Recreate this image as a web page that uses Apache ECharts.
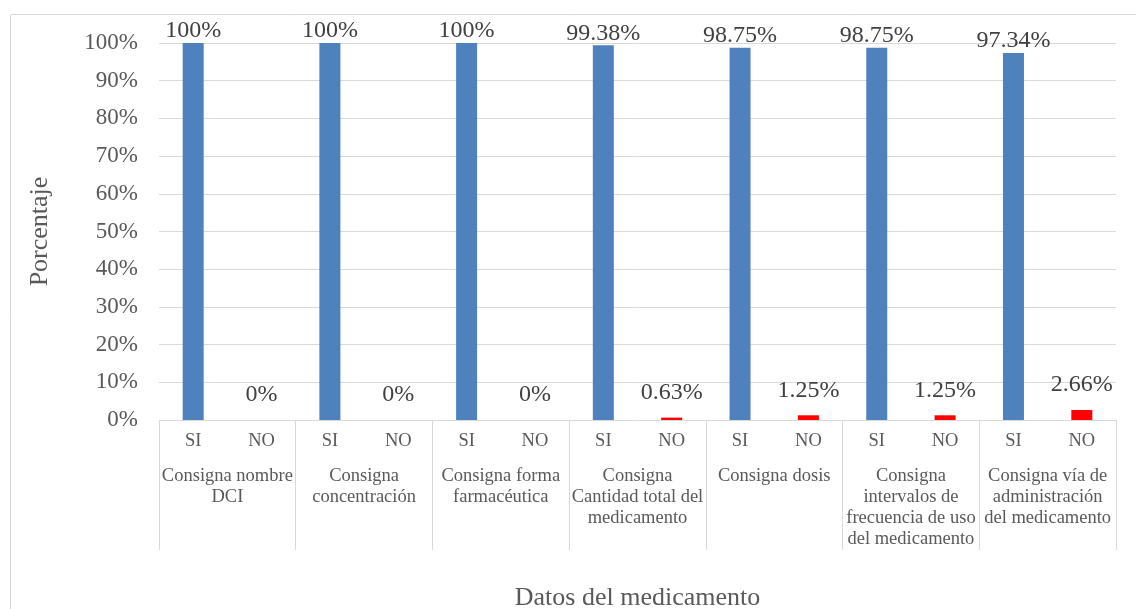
<!DOCTYPE html>
<html>
<head>
<meta charset="utf-8">
<script src="https://cdn.jsdelivr.net/npm/echarts@6/dist/echarts.min.js"></script>
<style>html,body{margin:0;padding:0;background:#fff}#c{width:1136px;height:609px}</style>
</head>
<body>
<div id="c"></div>
<script>
const groups = ['Consigna nombre\nDCI', 'Consigna\nconcentración', 'Consigna forma\nfarmacéutica', 'Consigna\nCantidad total del\nmedicamento', 'Consigna dosis', 'Consigna\nintervalos de\nfrecuencia de uso\ndel medicamento', 'Consigna vía de\nadministración\ndel medicamento'];
const subLabels = ['SI', 'NO'];
const siValues = [100, 100, 100, 99.38, 98.75, 98.75, 97.34];
const noValues = [0, 0, 0, 0.63, 1.25, 1.25, 2.66];
const yTicks = [0, 10, 20, 30, 40, 50, 60, 70, 80, 90, 100];

const cats = [];
const siData = [];
const noData = [];
groups.forEach((g, i) => {
  cats.push(subLabels[0], subLabels[1]);
  siData.push(siValues[i], '-');
  noData.push('-', noValues[i]);
});

const font = 'Liberation Serif, Times New Roman, serif';
const txt = '#595959';
const chart = echarts.init(document.getElementById('c'));
chart.setOption({
  animation: false,
  graphic: [{
    type: 'rect', shape: { x: 10.5, y: 14.5, width: 1140, height: 620 },
    style: { fill: 'none', stroke: '#d9d9d9', lineWidth: 1 }, silent: true
  }],
  grid: { left: 159, right: 20, top: 43, bottom: 189, outerBoundsMode: 'none', containLabel: false },
  xAxis: [{
    type: 'category', data: cats, position: 'bottom',
    axisLine: { show: true, lineStyle: { color: '#d9d9d9', width: 1 } },
    axisTick: { show: false },
    axisLabel: { fontFamily: font, fontSize: 18.5, color: txt, margin: 12, interval: 0 }
  }, {
    type: 'category', data: groups, position: 'bottom',
    axisLine: { show: false },
    axisTick: { show: true, length: 130, lineStyle: { color: '#d9d9d9', width: 1 } },
    axisLabel: { fontFamily: font, fontSize: 18.5, color: txt, margin: 46, interval: 0, lineHeight: 21, verticalAlign: 'top' },
    name: 'Datos del medicamento', nameLocation: 'middle', nameGap: 165,
    nameTextStyle: { fontFamily: font, fontSize: 26, color: txt }
  }],
  yAxis: {
    type: 'value', min: yTicks[0], max: yTicks[yTicks.length - 1], interval: 10,
    axisLine: { show: false }, axisTick: { show: false },
    axisLabel: { fontFamily: font, fontSize: 23, color: txt, margin: 21, formatter: '{value}%' },
    splitLine: { lineStyle: { color: '#d9d9d9', width: 1 } },
    name: 'Porcentaje', nameLocation: 'middle', nameGap: 106,
    nameTextStyle: { fontFamily: font, fontSize: 26, color: txt }
  },
  series: [{
    type: 'bar', name: 'SI', data: siData, stack: 'a', barWidth: 21,
    itemStyle: { color: '#4f81bd' },
    label: { show: true, position: 'top', distance: 0, fontFamily: font, fontSize: 24, color: '#404040', formatter: p => p.value + '%' }
  }, {
    type: 'bar', name: 'NO', data: noData, stack: 'a', barWidth: 21,
    itemStyle: { color: '#ff0000' },
    label: { show: true, position: 'top', distance: 13, fontFamily: font, fontSize: 24, color: '#404040', formatter: p => p.value + '%' }
  }]
});
</script>
</body>
</html>
